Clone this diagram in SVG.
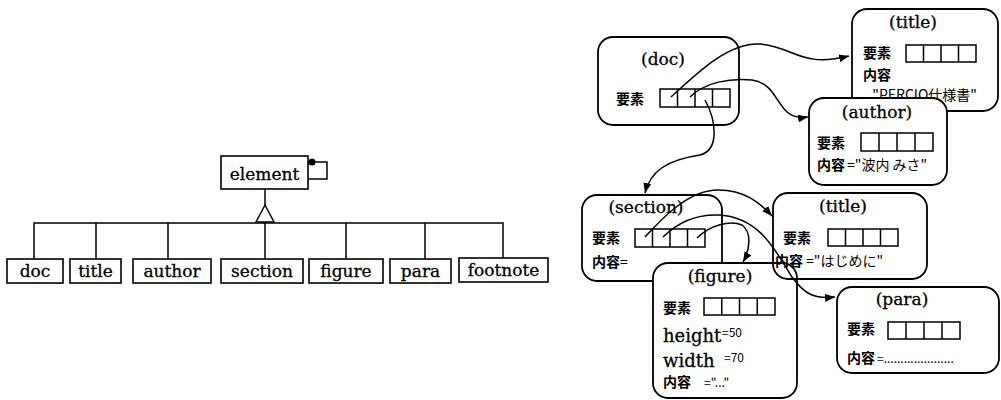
<svg xmlns="http://www.w3.org/2000/svg" width="1001" height="400" viewBox="0 0 1001 400">
<style>
.bx{fill:#fff;stroke:#000;stroke-width:1.6}
.obj{fill:#fff;stroke:#000;stroke-width:1.8}
.ln{fill:none;stroke:#000;stroke-width:1.5}
.cl{fill:none;stroke:#000;stroke-width:1.5}
.lbl{font-family:"DejaVu Serif","Liberation Serif",serif;font-size:17px;fill:#000;stroke:#000;stroke-width:0.3}
.ttl{font-family:"DejaVu Serif","Liberation Serif",serif;font-size:17px;fill:#000;text-anchor:middle;stroke:#000;stroke-width:0.3}
.kw{font-family:"Noto Sans CJK JP","Noto Sans",sans-serif;font-size:14px;font-weight:bold;fill:#000}
.val{font-family:"Noto Sans CJK JP","Noto Sans",sans-serif;font-size:14px;font-weight:normal;fill:#000}
.sm{font-family:"Noto Sans CJK JP","Noto Sans",sans-serif;font-size:12px;fill:#000}
.big{font-family:"DejaVu Serif","Liberation Serif",serif;font-size:18px;fill:#000;stroke:#000;stroke-width:0.3}
</style>
<defs>
<marker id="ah" markerWidth="10" markerHeight="8" refX="10" refY="4" orient="auto" markerUnits="userSpaceOnUse">
<path d="M0,0 L10,4 L0,8 z" fill="#000"/>
</marker>
</defs>
<rect width="1001" height="400" fill="#fff"/>

<!-- class diagram nodes -->
<g id="element">
<rect class="bx" x="221" y="156" width="87" height="33"/>
<text class="lbl" x="264.5" y="180" text-anchor="middle" font-size="18">element</text>
</g>
<g id="cls_doc"><rect class="bx" x="7" y="259" width="56" height="24"/><text class="lbl" x="35" y="277" text-anchor="middle">doc</text></g>
<g id="cls_title"><rect class="bx" x="70" y="259" width="51" height="24"/><text class="lbl" x="95.5" y="277" text-anchor="middle">title</text></g>
<g id="cls_author"><rect class="bx" x="133" y="259" width="78" height="24"/><text class="lbl" x="172" y="277" text-anchor="middle">author</text></g>
<g id="cls_section"><rect class="bx" x="221" y="259" width="82" height="24"/><text class="lbl" x="262" y="277" text-anchor="middle">section</text></g>
<g id="cls_figure"><rect class="bx" x="309" y="259" width="74" height="24"/><text class="lbl" x="346" y="277" text-anchor="middle">figure</text></g>
<g id="cls_para"><rect class="bx" x="390" y="259" width="61" height="24"/><text class="lbl" x="420.5" y="277" text-anchor="middle">para</text></g>
<g id="cls_footnote"><rect class="bx" x="459" y="258" width="89" height="24"/><text class="lbl" x="503.5" y="276" text-anchor="middle">footnote</text></g>

<!-- object nodes -->
<g id="obj_doc">
<rect class="obj" x="598" y="37" width="141" height="88" rx="15"/>
<text class="ttl" x="663" y="65">(doc)</text>
<text class="kw" x="616" y="104">要素</text>
<rect class="ln" x="660" y="89" width="70" height="18"/>
<path class="ln" d="M677.5,89V107M695,89V107M712.5,89V107"/>
</g>
<g id="obj_title">
<rect class="obj" x="852" y="9" width="146" height="102" rx="15"/>
<text class="ttl" x="913" y="28">(title)</text>
<text class="kw" x="863" y="58">要素</text>
<rect class="ln" x="906" y="45" width="70" height="17"/>
<path class="ln" d="M923.5,45V62M941,45V62M958.5,45V62"/>
<text class="kw" x="863" y="80">内容</text>
<text class="val" x="977" y="100" text-anchor="end" font-size="13">"PERCIO仕様書"</text>
</g>
<g id="obj_author">
<rect class="obj" x="809" y="98" width="138" height="87" rx="15"/>
<text class="ttl" x="877" y="118">(author)</text>
<text class="kw" x="817" y="148">要素</text>
<rect class="ln" x="861" y="133" width="72" height="18"/>
<path class="ln" d="M879,133V151M897,133V151M915,133V151"/>
<text class="kw" x="817" y="170">内容</text>
<text class="val" x="847" y="170">="波内 みさ"</text>
</g>
<g id="obj_section">
<rect class="obj" x="582" y="195" width="140" height="86" rx="15"/>
<text class="ttl" x="646" y="213">(section)</text>
<text class="kw" x="592" y="243">要素</text>
<rect class="ln" x="635" y="229" width="70" height="18"/>
<path class="ln" d="M652.5,229V247M670,229V247M687.5,229V247"/>
<text class="kw" x="592" y="267">内容<tspan class="val">=</tspan></text>
</g>
<g id="obj_figure">
<rect class="obj" x="653" y="263" width="144" height="135" rx="15"/>
<text class="ttl" x="720" y="282">(figure)</text>
<text class="kw" x="663" y="313">要素</text>
<rect class="ln" x="704" y="298" width="71" height="17"/>
<path class="ln" d="M721.75,298V315M739.5,298V315M757.25,298V315"/>
<text class="big" x="663" y="342">height</text>
<text class="sm" x="722" y="337">=50</text>
<text class="big" x="663" y="367">width</text>
<text class="sm" x="724" y="362">=70</text>
<text class="kw" x="663" y="387">内容</text>
<text class="sm" x="704" y="387">="..."</text>
</g>
<g id="obj_title2">
<rect class="obj" x="773" y="193" width="154" height="86" rx="15" style="fill:none"/>
<text class="ttl" x="843" y="212">(title)</text>
<text class="kw" x="783" y="243">要素</text>
<rect class="ln" x="828" y="229" width="70" height="17"/>
<path class="ln" d="M845.5,229V246M863,229V246M880.5,229V246"/>
<text class="kw" x="775" y="266">内容</text>
<text class="val" x="806" y="266">="はじめに"</text>
</g>
<g id="obj_para">
<rect class="obj" x="837" y="287" width="162" height="86" rx="15"/>
<text class="ttl" x="902" y="305">(para)</text>
<text class="kw" x="847" y="334">要素</text>
<rect class="ln" x="888" y="322" width="72" height="17"/>
<path class="ln" d="M906,322V339M924,322V339M942,322V339"/>
<text class="kw" x="847" y="363">内容</text>
<text class="sm" x="877" y="363">=.....................</text>
</g>

<!-- connectors -->
<g id="connectors">
<g id="inheritance">
<path class="cl" d="M265,189V205"/>
<path class="cl" d="M265,205L256,222H274Z" fill="#fff"/>
<path class="cl" d="M34,259V223H503V258"/>
<path class="cl" d="M96,223V259M168,223V259M265,222V259M346,223V259M425,223V259"/>
</g>
<g id="self_assoc">
<path class="cl" d="M308,162H327V179H308"/>
<circle cx="312" cy="162" r="3.5" fill="#000"/>
</g>
<path class="cl" d="M671,97 C700,70 730,42 760,44 C795,47 800,68 849,56" marker-end="url(#ah)"/>
<path class="cl" d="M690,97 C705,82 730,78 752,80 C782,84 775,122 808,117" marker-end="url(#ah)"/>
<path class="cl" d="M705,100 C716,120 720,150 700,155 C666,160 650,172 645,193" marker-end="url(#ah)"/>
<path class="cl" d="M645,237 C665,215 690,190 718,190 C745,190 760,203 772,216" marker-end="url(#ah)"/>
<path class="cl" d="M663,237 C680,220 700,214 720,215 C760,218 775,250 792,277 C805,295 815,299 835,297" marker-end="url(#ah)"/>
<path class="cl" d="M697,238 C710,225 730,220 742,225 C752,232 750,250 743,262" marker-end="url(#ah)"/>
</g>
</svg>
